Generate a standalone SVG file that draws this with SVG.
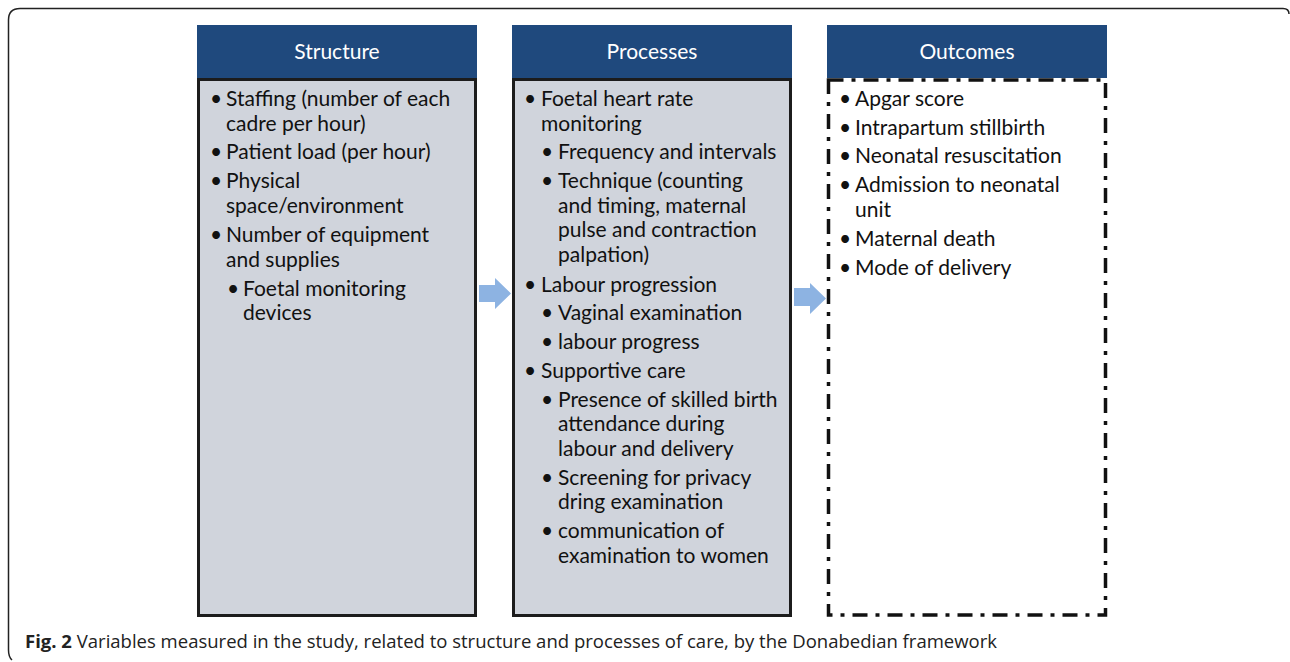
<svg xmlns="http://www.w3.org/2000/svg" width="1290" height="662" viewBox="0 0 1290 662">
<style>
.hdr{fill:#1F497D}
.hdrt{fill:#fff;font-family:Lato,"Open Sans",sans-serif;font-size:21px;text-anchor:middle}
.box{fill:#D0D4DC;stroke:#1c1c1c;stroke-width:3}
.t{font-family:Lato,"Open Sans",sans-serif;font-size:21px;fill:#111}
.arr{fill:#8DB3E2}
.cap{font-family:"Open Sans",Lato,sans-serif;font-size:18px;fill:#222}
</style>
<rect width="1290" height="662" fill="#fff"/>
<path d="M12,660 Q8.5,657 8.5,650 V20 Q8.5,8.5 20,8.5 H1283 Q1289,8.5 1289,14" fill="none" stroke="#222" stroke-width="1.5"/>
<g id="structure">
<rect class="hdr" x="197" y="25" width="280" height="53"/>
<text class="hdrt" x="337" y="59">Structure</text>
<rect class="box" x="198.5" y="79.5" width="277" height="536"/>
<text class="t">
<tspan x="210" y="106">•</tspan><tspan x="226" y="106">Staffing (number of each</tspan>
<tspan x="226" y="131">cadre per hour)</tspan>
<tspan x="210" y="159">•</tspan><tspan x="226" y="159">Patient load (per hour)</tspan>
<tspan x="210" y="188">•</tspan><tspan x="226" y="188">Physical</tspan>
<tspan x="226" y="213">space/environment</tspan>
<tspan x="210" y="242">•</tspan><tspan x="226" y="242">Number of equipment</tspan>
<tspan x="226" y="267">and supplies</tspan>
<tspan x="227" y="296">•</tspan><tspan x="243" y="296">Foetal monitoring</tspan>
<tspan x="243" y="320">devices</tspan>
</text>
</g>
<g id="processes">
<rect class="hdr" x="512" y="25" width="280" height="53"/>
<text class="hdrt" x="652" y="59">Processes</text>
<rect class="box" x="513.5" y="79.5" width="277" height="536"/>
<text class="t">
<tspan x="524" y="106">•</tspan><tspan x="541" y="106">Foetal heart rate</tspan>
<tspan x="541" y="131">monitoring</tspan>
<tspan x="541" y="159">•</tspan><tspan x="558" y="159">Frequency and intervals</tspan>
<tspan x="541" y="188">•</tspan><tspan x="558" y="188">Technique (counting</tspan>
<tspan x="558" y="213">and timing, maternal</tspan>
<tspan x="558" y="237">pulse and contraction</tspan>
<tspan x="558" y="262">palpation)</tspan>
<tspan x="524" y="292">•</tspan><tspan x="541" y="292">Labour progression</tspan>
<tspan x="541" y="320">•</tspan><tspan x="558" y="320">Vaginal examination</tspan>
<tspan x="541" y="349">•</tspan><tspan x="558" y="349">labour progress</tspan>
<tspan x="524" y="378">•</tspan><tspan x="541" y="378">Supportive care</tspan>
<tspan x="541" y="407">•</tspan><tspan x="558" y="407">Presence of skilled birth</tspan>
<tspan x="558" y="431">attendance during</tspan>
<tspan x="558" y="456">labour and delivery</tspan>
<tspan x="541" y="485">•</tspan><tspan x="558" y="485">Screening for privacy</tspan>
<tspan x="558" y="509">dring examination</tspan>
<tspan x="541" y="538">•</tspan><tspan x="558" y="538">communication of</tspan>
<tspan x="558" y="563">examination to women</tspan>
</text>
</g>
<g id="outcomes">
<rect class="hdr" x="827" y="25" width="280" height="53"/>
<text class="hdrt" x="967" y="59">Outcomes</text>
<rect x="828.5" y="80" width="277" height="535" fill="#fff" stroke="#111" stroke-width="3.5" stroke-dasharray="15 8 4 8"/>
<text class="t">
<tspan x="839" y="106">•</tspan><tspan x="855" y="106">Apgar score</tspan>
<tspan x="839" y="135">•</tspan><tspan x="855" y="135">Intrapartum stillbirth</tspan>
<tspan x="839" y="163">•</tspan><tspan x="855" y="163">Neonatal resuscitation</tspan>
<tspan x="839" y="192">•</tspan><tspan x="855" y="192">Admission to neonatal</tspan>
<tspan x="855" y="217">unit</tspan>
<tspan x="839" y="246">•</tspan><tspan x="855" y="246">Maternal death</tspan>
<tspan x="839" y="275">•</tspan><tspan x="855" y="275">Mode of delivery</tspan>
</text>
</g>
<g id="connectors">
<path class="arr" d="M479,285 H495 V278 L511,293.5 L495,309 V302 H479 Z"/>
<path class="arr" d="M794,288 H810 V283 L826,298.5 L810,314 V306 H794 Z"/>
</g>
<text class="cap" x="25" y="648" textLength="972" lengthAdjust="spacingAndGlyphs"><tspan font-weight="bold">Fig. 2</tspan> Variables measured in the study, related to structure and processes of care, by the Donabedian framework</text>
</svg>
